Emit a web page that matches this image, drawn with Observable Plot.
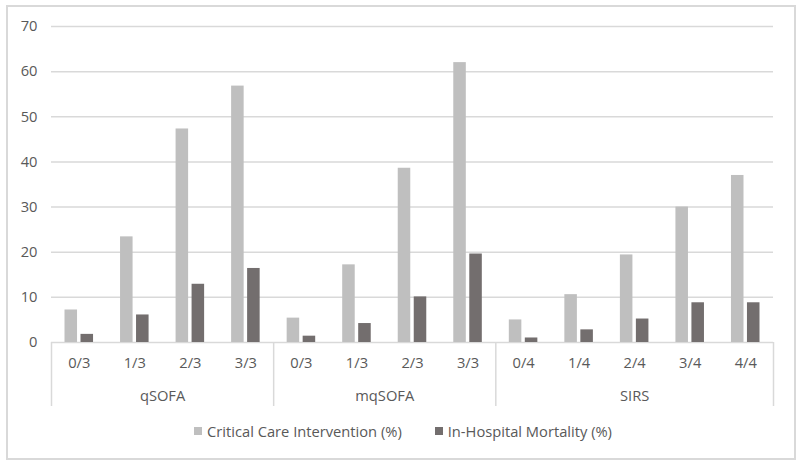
<!DOCTYPE html>
<html>
<head>
<meta charset="utf-8">
<script src="https://cdn.jsdelivr.net/npm/d3@7"></script>
<script src="https://cdn.jsdelivr.net/npm/@observablehq/plot@0.6"></script>
<style>
  html, body { margin: 0; padding: 0; background: #fff; }
  #wrap { position: relative; width: 800px; height: 465px; font-family: "Open Sans", sans-serif; color: #595959; }
  #border { position: absolute; left: 6px; top: 5px; width: 786px; height: 451px; border: 2px solid #d9d9d9; box-sizing: content-box; }
  #chart { position: absolute; left: 0; top: 0; }
  #legend { position: absolute; left: 0; top: 421px; width: 806px; display: flex; justify-content: center; align-items: center; font-size: 14.7px; }
  .item { display: flex; align-items: center; margin: 0 16.5px; }
  .sw { width: 8px; height: 8px; margin-right: 5px; display: inline-block; }
</style>
</head>
<body>
<div id="wrap">
  <div id="border"></div>
  <div id="chart"></div>
  <div id="legend"></div>
</div>
<script>
const groups = ["qSOFA", "mqSOFA", "SIRS"];
const groupSizes = [4, 4, 5];
const categories = ["0/3", "1/3", "2/3", "3/3", "0/3", "1/3", "2/3", "3/3", "0/4", "1/4", "2/4", "3/4", "4/4"];
const critical = [7.2, 23.4, 47.3, 56.8, 5.4, 17.2, 38.6, 62.0, 5.0, 10.6, 19.4, 30.0, 37.0];
const mortality = [1.8, 6.1, 12.9, 16.4, 1.4, 4.2, 10.1, 19.6, 1.0, 2.8, 5.2, 8.8, 8.8];
const seriesNames = ["Critical Care Intervention (%)", "In-Hospital Mortality (%)"];
const seriesColors = ["#bfbfbf", "#736e6e"];
const yTicks = [0, 10, 20, 30, 40, 50, 60, 70];

const cats = categories.map((label, i) => ({i, label, critical: critical[i], mortality: mortality[i]}));
let start = 0;
const groupRows = groups.map((g, k) => {
  const row = {name: g, start, end: start + groupSizes[k]};
  start += groupSizes[k];
  return row;
});
const boundaries = [0, ...groupRows.map(g => g.end)];

const txt = "#595959";
const fs = 14.7;
const plot = Plot.plot({
  width: 800,
  height: 418,
  marginLeft: 51,
  marginRight: 27,
  marginTop: 26,
  marginBottom: 76,
  style: {fontFamily: "'Open Sans', sans-serif", fontSize: fs + "px", color: txt, background: "transparent"},
  x: {domain: [0, categories.length], axis: null},
  y: {domain: [0, 70], ticks: yTicks, tickSize: 0, tickPadding: 14, label: null, tickFormat: d => String(d)},
  marks: [
    Plot.ruleY(yTicks, {stroke: "#d9d9d9", strokeWidth: 1.5}),
    Plot.rectY(cats, {x1: "i", x2: d => d.i + 1, y: "critical", fill: seriesColors[0], insetLeft: 13.5, insetRight: 29.5}),
    Plot.rectY(cats, {x1: "i", x2: d => d.i + 1, y: "mortality", fill: seriesColors[1], insetLeft: 29.5, insetRight: 13.5}),
    Plot.ruleX(boundaries, {x: d => d, y1: 0, y2: 0, insetBottom: -64, stroke: "#d9d9d9", strokeWidth: 1.5}),
    Plot.text(cats, {x: d => d.i + 0.5, y: 0, dy: 21, text: "label", fill: txt, fontSize: fs}),
    Plot.text(groupRows, {x: d => (d.start + d.end) / 2, y: 0, dy: 54, text: "name", fill: txt, fontSize: fs})
  ]
});
document.getElementById("chart").appendChild(plot);

const legend = document.getElementById("legend");
seriesNames.forEach((name, k) => {
  const item = document.createElement("div");
  item.className = "item";
  const sw = document.createElement("span");
  sw.className = "sw";
  sw.style.background = seriesColors[k];
  const t = document.createElement("span");
  t.textContent = name;
  item.appendChild(sw);
  item.appendChild(t);
  legend.appendChild(item);
});
</script>
</body>
</html>
